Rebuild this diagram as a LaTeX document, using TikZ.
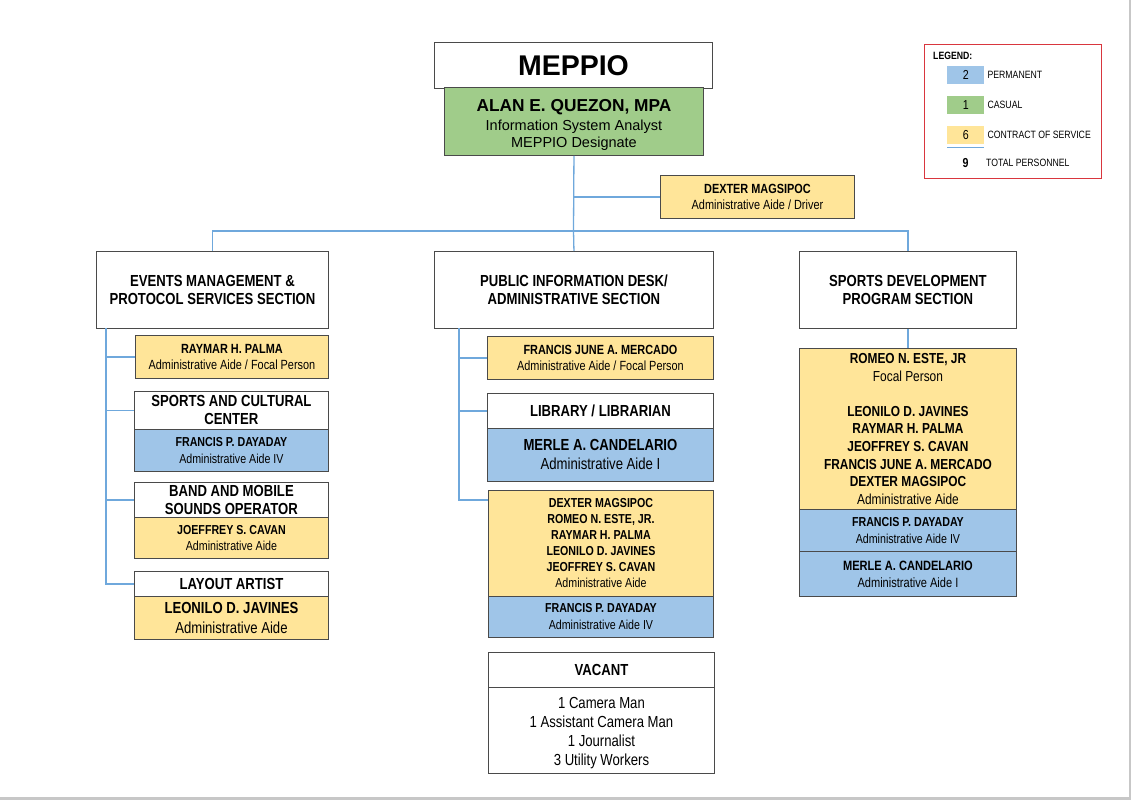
\documentclass[tikz,border=0pt]{standalone}
\usepackage{fontspec}
\setmainfont{Liberation Sans}
\newfontfamily\nar[FakeStretch=0.82]{Liberation Sans}
\newcommand\fs[2]{\fontsize{#1}{#2}\selectfont}
\newcommand\B[1]{{\bfseries #1}}
\definecolor{yel}{HTML}{FFE599}
\definecolor{blu}{HTML}{9FC5E8}
\definecolor{grn}{HTML}{A0CC8A}
\definecolor{conncol}{HTML}{6FA8DC}
\definecolor{bord}{HTML}{4A4A4A}
\definecolor{legred}{HTML}{D9363E}
\tikzset{
  box/.style={draw=bord, line width=0.9pt, inner sep=0pt, anchor=north west, align=center},
  conn/.style={draw=conncol, line width=1.3pt},
  swatch/.style={anchor=north west, inner sep=0pt, minimum width=37pt, minimum height=18pt, font=\nar\fs{13}{14}},
  lab/.style={anchor=west, inner sep=0pt, font=\nar\fs{10.6}{12}}
}
\newcommand\mybox[8]{\node[box, fill=#6, font=#7, minimum width={#4pt-#2pt}, minimum height={#5pt-#3pt}] (#1) at (#2,#3) {#8};}
\begin{document}
\begin{tikzpicture}[x=1pt,y=-1pt]
\useasboundingbox (0,0) rectangle (1131,800);
\fill[white] (0,0) rectangle (1131,800);
\fill[black!22] (1128.5,0) rectangle (1131,800);
\fill[black!22] (0,796.5) rectangle (1131,800);

% top
\mybox{meppio}{434}{42}{712}{88}{white}{\bfseries\fs{28.5}{30}}{MEPPIO}
\mybox{head}{444}{87}{703}{155}{grn}{\fs{14.5}{17}}{{\bfseries\fs{17.3}{19}\rule{0pt}{18.5pt}ALAN E. QUEZON, MPA}\\[2pt]Information System Analyst\\MEPPIO Designate}
\mybox{dex}{660}{175}{854}{218}{yel}{\nar\fs{13.3}{16}}{\B{DEXTER MAGSIPOC}\\Administrative Aide / Driver}

% sections
\mybox{lsec}{96}{251}{328}{328}{white}{\nar\bfseries\fs{16}{18}}{EVENTS MANAGEMENT \&\\PROTOCOL SERVICES SECTION}
\mybox{msec}{434}{251}{713}{328}{white}{\nar\bfseries\fs{16}{18}}{PUBLIC INFORMATION DESK/\\ADMINISTRATIVE SECTION}
\mybox{rsec}{799}{251}{1016}{328}{white}{\nar\bfseries\fs{16}{18}}{SPORTS DEVELOPMENT\\PROGRAM SECTION}

% left column
\mybox{raymar}{135}{335}{328}{378}{yel}{\nar\fs{13.3}{16}}{\B{RAYMAR H. PALMA}\\Administrative Aide / Focal Person}
\mybox{sch}{134}{391}{328}{429}{white}{\nar\bfseries\fs{16}{18}}{SPORTS AND CULTURAL\\CENTER}
\mybox{fpda}{134}{429}{328}{471}{blu}{\nar\fs{13}{17}}{\B{FRANCIS P. DAYADAY}\\Administrative Aide IV}
\mybox{band}{134}{482}{328}{517}{white}{\nar\bfseries\fs{16}{18}}{BAND AND MOBILE\\SOUNDS OPERATOR}
\mybox{jsc}{134}{517}{328}{558}{yel}{\nar\fs{13}{16}}{\B{JOEFFREY S. CAVAN}\\Administrative Aide}
\mybox{lay}{134}{571}{328}{596}{white}{\nar\bfseries\fs{16}{18}}{LAYOUT ARTIST}
\mybox{ldj}{134}{596}{328}{639}{yel}{\nar\fs{16}{20}}{\B{LEONILO D. JAVINES}\\Administrative Aide}

% middle column
\mybox{fjm}{487}{336}{713}{379}{yel}{\nar\fs{13.3}{16}}{\B{FRANCIS JUNE A. MERCADO}\\Administrative Aide / Focal Person}
\mybox{lib}{487}{393}{713}{428}{white}{\nar\bfseries\fs{16}{18}}{LIBRARY / LIBRARIAN}
\mybox{mac}{487}{428}{713}{481}{blu}{\nar\fs{16}{19}}{\B{MERLE A. CANDELARIO}\\Administrative Aide I}
\mybox{big}{488}{490}{713}{596}{yel}{\nar\fs{13}{16}}{\B{DEXTER MAGSIPOC}\\\B{ROMEO N. ESTE, JR.}\\\B{RAYMAR H. PALMA}\\\B{LEONILO D. JAVINES}\\\B{JEOFFREY S. CAVAN}\\Administrative Aide}
\mybox{fpdb}{488}{596}{713}{637}{blu}{\nar\fs{13}{17}}{\B{FRANCIS P. DAYADAY}\\Administrative Aide IV}
\mybox{vac}{488}{652}{714}{687}{white}{\nar\bfseries\fs{16}{18}}{VACANT}
\mybox{vlist}{488}{687}{714}{773}{white}{\nar\fs{16}{19}}{\rule{0pt}{15.5pt}1 Camera Man\\1 Assistant Camera Man\\1 Journalist\\3 Utility Workers}

% right column
\mybox{ry}{799}{348}{1016}{509}{yel}{\nar\fs{14.5}{17.6}}{\B{ROMEO N. ESTE, JR}\\Focal Person\\[17.6pt]\B{LEONILO D. JAVINES}\\\B{RAYMAR H. PALMA}\\\B{JEOFFREY S. CAVAN}\\\B{FRANCIS JUNE A. MERCADO}\\\B{DEXTER MAGSIPOC}\\Administrative Aide}
\mybox{rfpd}{799}{509}{1016}{551}{blu}{\nar\fs{13}{17}}{\B{FRANCIS P. DAYADAY}\\Administrative Aide IV}
\mybox{rmac}{799}{551}{1016}{596}{blu}{\nar\fs{13.5}{17}}{\B{MERLE A. CANDELARIO}\\Administrative Aide I}

% connectors
\coordinate (bus) at (573.5,231);
\draw[conn] (head.south) -- (bus);
\draw[conn] (bus) -- (msec.north);
\draw[conn] (lsec.north) |- (bus) -| (rsec.north);
\draw[conn] (dex.west) -- (dex.west -| head.south);
\coordinate (lv) at (106,328);
\draw[conn] (lv) |- (raymar.west);
\draw[conn] (lv) |- (sch.west);
\draw[conn] (lv) |- (band.west);
\draw[conn] (lv) |- (lay.west);
\coordinate (mv) at (459,328);
\draw[conn] (mv) |- (fjm.west);
\draw[conn] (mv) |- (lib.west);
\draw[conn] (mv) |- ([yshift=-10pt]big.north west);
\draw[conn] (rsec.south) -- (ry.north);

% legend
\node[draw=legred, line width=1.2pt, inner sep=0pt, anchor=north west, minimum width=177pt, minimum height=134pt] (leg) at (924,44) {};
\node[anchor=west, inner sep=0pt, font=\nar\bfseries\fs{10.6}{12}] (legt) at (933,56) {LEGEND:};
\node[swatch, fill=blu] (s1) at (947,65.5) {2};
\node[lab] (l1) at ([xshift=3pt]s1.east) {PERMANENT};
\node[swatch, fill=grn] (s2) at (947,95.5) {1};
\node[lab] (l2) at ([xshift=3pt]s2.east) {CASUAL};
\node[swatch, fill=yel] (s3) at (947,126) {6};
\node[lab] (l3) at ([xshift=3pt]s3.east) {CONTRACT OF SERVICE};
\draw[conncol, line width=0.8pt] ([yshift=-3pt]s3.south west) -- ([yshift=-3pt]s3.south east);
\node[font=\nar\bfseries\fs{13}{14}, inner sep=0pt] (s4) at (965.5,163) {9};
\node[lab] (l4) at (986,163) {TOTAL PERSONNEL};
\end{tikzpicture}
\end{document}
